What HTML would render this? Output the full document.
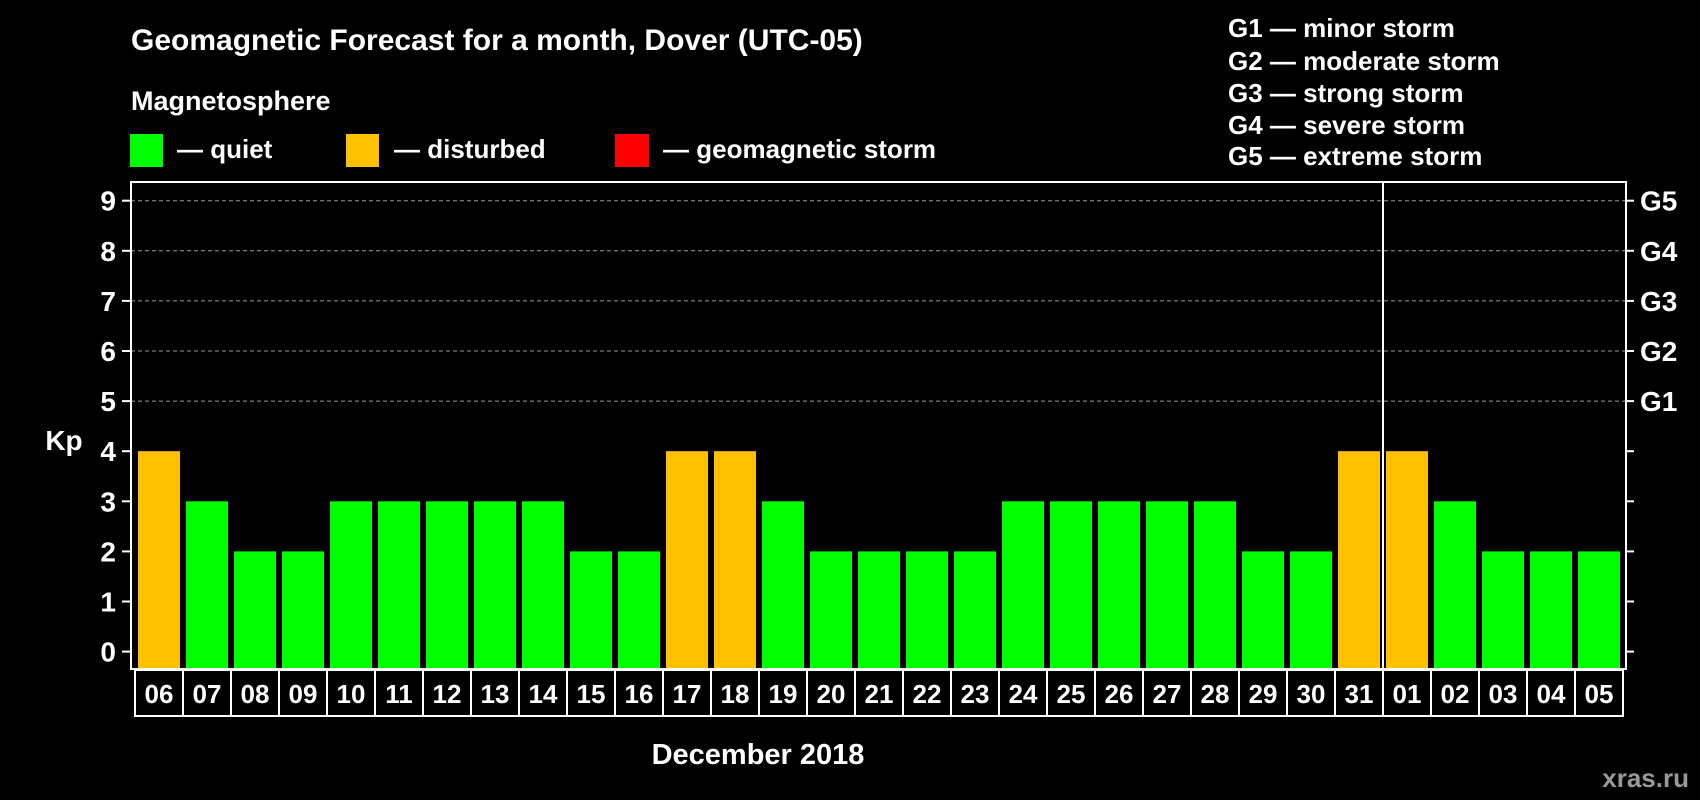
<!DOCTYPE html>
<html><head><meta charset="utf-8"><style>
body{margin:0;background:#000;}
svg{display:block;font-family:"Liberation Sans",sans-serif;font-weight:bold;}
</style></head><body>
<svg id="c" width="1700" height="800" viewBox="0 0 1700 800">
<rect width="1700" height="800" fill="#000"/>
<text x="131" y="50" fill="#fff" font-size="30">Geomagnetic Forecast for a month, Dover (UTC-05)</text>
<text x="131" y="110" fill="#fff" font-size="27">Magnetosphere</text>
<rect x="130" y="134" width="33" height="33" fill="#00ff00"/>
<text x="177" y="158" fill="#fff" font-size="26">— quiet</text>
<rect x="346" y="134" width="33" height="33" fill="#ffc000"/>
<text x="394" y="158" fill="#fff" font-size="26">— disturbed</text>
<rect x="615" y="134" width="34" height="33" fill="#ff0000"/>
<text x="663" y="158" fill="#fff" font-size="26">— geomagnetic storm</text>
<g font-size="26" fill="#fff">
<text x="1228" y="37">G1 — minor storm</text>
<text x="1228" y="70">G2 — moderate storm</text>
<text x="1228" y="102">G3 — strong storm</text>
<text x="1228" y="134">G4 — severe storm</text>
<text x="1228" y="165">G5 — extreme storm</text>
</g>
<text x="64" y="450" fill="#fff" font-size="28" text-anchor="middle">Kp</text>
<text x="758" y="764" fill="#fff" font-size="29" text-anchor="middle">December 2018</text>
<text x="1689" y="787" fill="#999" font-size="26" text-anchor="end">xras.ru</text>
<g id="plot"></g>
</svg>
<script>
const days=["06","07","08","09","10","11","12","13","14","15","16","17","18","19","20","21","22","23","24","25","26","27","28","29","30","31","01","02","03","04","05"];
const kp=[4,3,2,2,3,3,3,3,3,2,2,4,4,3,2,2,2,2,3,3,3,3,3,2,2,4,4,3,2,2,2];
const yTicks=[0,1,2,3,4,5,6,7,8,9];
const gLabels=["G1","G2","G3","G4","G5"];
const gLevels=[5,6,7,8,9];
const NS="http://www.w3.org/2000/svg";
const g=document.getElementById('plot');
const L=131,T=182,R=1626,B=669;
const y=v=>651.6-v*50.1;
const x=i=>135+i*48;
function mk(t,a){const e=document.createElementNS(NS,t);for(const k in a)e.setAttribute(k,a[k]);g.appendChild(e);return e;}
yTicks.forEach(v=>{
 if(v>=5){const l=mk('line',{x1:L,x2:R,y1:y(v),y2:y(v),stroke:'#999','stroke-width':1,'stroke-dasharray':'4,3'});
 
 }
 const t1=mk('line',{x1:122,x2:L,y1:y(v),y2:y(v),stroke:'#fff','stroke-width':2});
 
 
 const t2=mk('line',{x1:R,x2:1634,y1:y(v),y2:y(v),stroke:'#fff','stroke-width':2});
 
 
 const tx=mk('text',{x:116,y:y(v)+10,fill:'#fff','font-size':28,'text-anchor':'end'});
 tx.textContent=v;
 
 
});
gLabels.forEach((s,i)=>{
 const tx=mk('text',{x:1640,y:y(gLevels[i])+10,fill:'#fff','font-size':28});
 tx.textContent=s;
 
 
});
kp.forEach((v,i)=>{
 const r=mk('rect',{x:x(i)+3,y:y(v),width:42,height:B-y(v),fill:v>=5?'#ff0000':(v>=4?'#ffc000':'#00ff00')});
 
 
 const c=mk('rect',{x:x(i),y:670,width:48,height:46,fill:'none',stroke:'#fff','stroke-width':2});
 
 
 const tx=mk('text',{x:x(i)+24,y:703,fill:'#fff','font-size':26,'text-anchor':'middle'});
 tx.textContent=days[i];
 
 
});
const fr=mk('rect',{x:L,y:T,width:R-L,height:B-T,fill:'none',stroke:'#fff','stroke-width':2});


const sep=days.indexOf("01");
const sl=mk('line',{x1:x(sep),x2:x(sep),y1:T,y2:B,stroke:'#fff','stroke-width':2});


</script>
</body></html>
